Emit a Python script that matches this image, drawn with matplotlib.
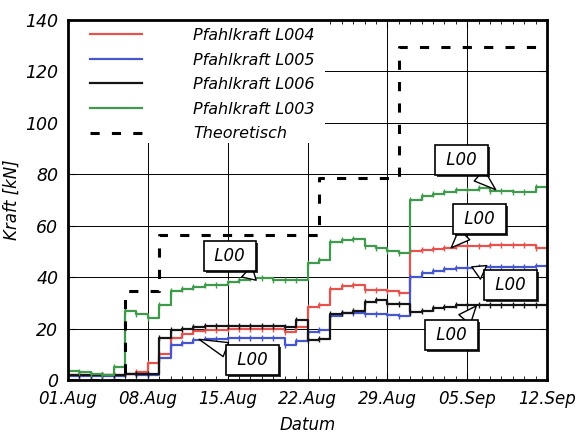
import numpy as np
import matplotlib
matplotlib.use("Agg")
import matplotlib.pyplot as plt
import matplotlib.patheffects as pe
from matplotlib.patches import Rectangle

plt.rcParams['font.family'] = 'DejaVu Sans'
plt.rcParams['font.style'] = 'italic'

# day index since 01.Aug, value holds until the next day
days = list(range(43))
tick_days = [0, 7, 14, 21, 28, 35, 42]
tick_labels = ["01.Aug", "08.Aug", "15.Aug", "22.Aug", "29.Aug", "05.Sep", "12.Sep"]

l004 = [2, 2, 2, 2, 2, 2.5, 3, 6.5, 10, 16.5, 18, 19, 19.5, 19.5, 20, 20, 20, 20, 20, 18.5,
        20.5, 28.5, 29, 35.5, 36.5, 37, 35, 35, 34.5, 34, 50, 50.5, 51, 51.5, 52, 52, 52,
        52.5, 52.5, 52.5, 52.5, 51.5, 51.5]
l005 = [1.5, 1.5, 1.5, 1.5, 1.5, 2.5, 2, 2, 8.5, 13.5, 14.5, 15.5, 16, 16, 16.5, 16.5, 16.5,
        16.5, 16.5, 13.5, 15, 18.5, 19.5, 25, 26, 26, 25.5, 25.5, 25.3, 25, 40, 41.5, 42.5,
        43, 43.5, 43.5, 44, 44, 44, 44, 44, 44.5, 44.5]
l006 = [2, 2, 2, 2, 2, 2.5, 2.5, 2.5, 16.5, 19.5, 20, 20.5, 21, 21, 21, 21, 21, 21, 21, 20.5,
        23.5, 15.5, 16, 25.5, 26, 27, 30.5, 31, 29.5, 29.5, 26.5, 27, 28, 28.5, 29, 29, 29,
        29, 29, 29, 29, 29, 29]
l003 = [3.5, 3, 2.5, 2, 5, 27, 25.5, 24, 29, 34.5, 35.5, 36, 37, 37, 38, 39, 39.5, 39.5, 39,
        39, 39, 45.5, 46.5, 53.5, 54.5, 55, 52, 51.5, 50, 49.5, 70, 71.5, 72.5, 73, 74, 74,
        74.5, 73.5, 73.5, 73, 73, 75, 75]

theo_days = [0, 5, 8, 22, 29, 42]
theo_vals = [0, 34.5, 56.5, 78.5, 129.5, 129.5]

# callout boxes: (box centre day, box centre kN, tip day, tip kN)
callouts = [(14.2, 48.2, 16.5, 38.8),
            (16.2, 7.8, 11.5, 15.8),
            (34.5, 85.6, 37.5, 74),
            (36.1, 62.6, 33.6, 51.4),
            (38.8, 37.0, 35.4, 44.0),
            (33.6, 17.5, 35.8, 28.8)]

fig = plt.figure(figsize=(5.76, 4.36), dpi=100)
ax = fig.add_axes([68/576, 1-380/436, (547-68)/576, 360/436])

series = [(l004, '#e8524c', 'Pfahlkraft L004'),
          (l005, '#4656cc', 'Pfahlkraft L005'),
          (l006, '#151515', 'Pfahlkraft L006'),
          (l003, '#3f9a4c', 'Pfahlkraft L003')]
for vals, col, lab in series:
    ax.plot(days, vals, drawstyle='steps-post', color=col, lw=1.6, label=lab, zorder=3)
    ax.plot(days[1:-1], vals[1:-1], ls='none', marker='|', ms=5, mew=1.0, color=col, zorder=3)
ax.plot(theo_days, theo_vals, drawstyle='steps-post', color='black', lw=2.2,
        dashes=(3, 4), label='Theoretisch', zorder=4)

for bx, by, tx, ty in callouts:
    ann = ax.annotate(" L00 ", xy=(tx, ty), xytext=(bx, by), ha='center', va='center',
                      fontsize=12, zorder=6,
                      bbox=dict(boxstyle='square,pad=0.35', fc='white', ec='black', lw=1.2),
                      arrowprops=dict(arrowstyle='wedge,tail_width=0.9,shrink_factor=0.5',
                                      fc='white', ec='black', lw=1.0, shrinkA=0, shrinkB=0))
    ann.get_bbox_patch().set_path_effects([
        pe.SimplePatchShadow(offset=(1.5, -1.5), shadow_rgbFace='black', alpha=0.8),
        pe.Normal()])

ax.set_xlim(0, 42)
ax.set_ylim(0, 140)
ax.set_xticks(tick_days)
ax.set_xticklabels(tick_labels)
ax.set_xticks(days, minor=True)
ax.set_yticks(range(0, 141, 20))
ax.tick_params(direction='in', top=True, right=True, labelsize=12, length=5, pad=7)
ax.tick_params(axis='y', labelsize=12.5)
ax.tick_params(which='minor', direction='in', top=True, length=3)
ax.grid(True, color='black', lw=0.7)
ax.set_axisbelow(True)
for s in ax.spines.values():
    s.set_linewidth(2)
    s.set_zorder(5)

ax.set_xlabel("Datum", fontsize=12, labelpad=6)
ax.set_ylabel("Kraft [kN]", fontsize=12, labelpad=3)

# white area behind the legend hides the grid
ax.add_patch(Rectangle((0, (380-143)/360), (325-68)/479, 1, transform=ax.transAxes,
                       fc='white', ec='none', zorder=2))
leg = ax.legend(loc='upper left', fontsize=11.5, frameon=False,
                bbox_to_anchor=(0.046, 0.978), borderaxespad=0, borderpad=0,
                handlelength=3.25, handletextpad=3.2, labelspacing=0.6)

fig.savefig("out.png", dpi=100)
